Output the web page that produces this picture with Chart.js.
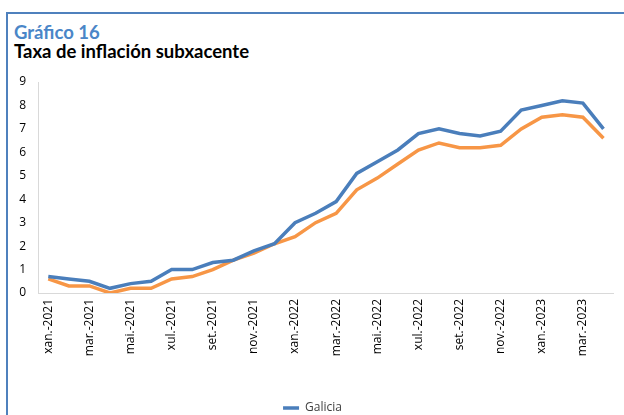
<!DOCTYPE html>
<html>
<head>
<meta charset="utf-8">
<script src="https://cdn.jsdelivr.net/npm/chart.js@4"></script>
<style>
  body { margin: 0; width: 624px; height: 415px; overflow: hidden; background: #fff; }
  #frame { position: absolute; left: 6px; top: 12px; width: 630px; height: 420px;
           border-left: 2px solid #4f81bd; border-top: 2px solid #4f81bd; }
  #num { position: absolute; left: 14px; top: 21px; font: bold 18.5px Lato, sans-serif; color: #4a86c8; }
  #title { position: absolute; left: 14px; top: 40px; font: bold 18.5px Lato, sans-serif; color: #000; }
  #wrap { position: absolute; left: 0; top: 0; width: 624px; height: 430px; }
</style>
</head>
<body>
<div id="frame"></div>
<div id="num">Gráfico 16</div>
<div id="title">Taxa de inflación subxacente</div>
<div id="wrap"><canvas id="myChart"></canvas></div>
<script>
// months xan.-2021 .. abr.-2023
let months = ['xan.-2021','feb.-2021','mar.-2021','abr.-2021','mai.-2021','xuñ.-2021',
              'xul.-2021','ago.-2021','set.-2021','out.-2021','nov.-2021','dec.-2021',
              'xan.-2022','feb.-2022','mar.-2022','abr.-2022','mai.-2022','xuñ.-2022',
              'xul.-2022','ago.-2022','set.-2022','out.-2022','nov.-2022','dec.-2022',
              'xan.-2023','feb.-2023','mar.-2023','abr.-2023'];
let galicia = [0.7,0.6,0.5,0.2,0.4,0.5, 1.0,1.0,1.3,1.4,1.8,2.1,
               3.0,3.4,3.9,5.1,5.6,6.1, 6.8,7.0,6.8,6.7,6.9,7.8,
               8.0,8.2,8.1,7.0];
let espana  = [0.6,0.3,0.3,0.0,0.2,0.2, 0.6,0.7,1.0,1.4,1.7,2.1,
               2.4,3.0,3.4,4.4,4.9,5.5, 6.1,6.4,6.2,6.2,6.3,7.0,
               7.5,7.6,7.5,6.6];
let yTicks = [0,1,2,3,4,5,6,7,8,9];

let axisFont = { family: 'Open Sans', size: 12 };

let ctx = document.getElementById('myChart').getContext('2d');
let myChart = new Chart(ctx, {
    type: 'line',
    data: {
        labels: months,
        datasets: [{
            label: 'Galicia',
            data: galicia,
            borderColor: '#4a7ebb',
            backgroundColor: '#4a7ebb',
            borderWidth: 3.5,
            pointRadius: 0,
            tension: 0
        }, {
            label: 'España',
            data: espana,
            borderColor: '#f79646',
            backgroundColor: '#f79646',
            borderWidth: 3.5,
            pointRadius: 0,
            tension: 0
        }]
    },
    options: {
        responsive: true,
        maintainAspectRatio: false,
        animation: false,
        layout: { padding: { left: 8, right: 7, top: 82, bottom: 6 } },
        plugins: {
            tooltip: { enabled: false },
            legend: {
                position: 'bottom',
                labels: {
                    filter: item => item.text === 'Galicia',
                    usePointStyle: true,
                    pointStyle: 'line',
                    pointStyleWidth: 16,
                    boxHeight: 12,
                    padding: 10,
                    color: '#404040',
                    font: { family: 'Open Sans', size: 12 }
                }
            }
        },
        scales: {
            x: {
                offset: true,
                grid: { display: false, drawTicks: false },
                border: { color: '#d9d9d9' },
                afterFit: s => { s.height = 99; },
                ticks: {
                    autoSkip: false,
                    minRotation: 90,
                    maxRotation: 90,
                    padding: 6,
                    color: '#000',
                    font: axisFont,
                    callback: function (v, i) { return i % 2 === 0 ? months[i] : ''; }
                }
            },
            y: {
                min: 0,
                max: 9,
                afterBuildTicks: s => { s.ticks = yTicks.map(v => ({ value: v })); },
                afterFit: s => { s.width = 30; },
                grid: { display: false, drawTicks: false },
                border: { color: '#d9d9d9' },
                ticks: { padding: 12, color: '#000', font: axisFont }
            }
        }
    }
});
</script>
</body>
</html>
